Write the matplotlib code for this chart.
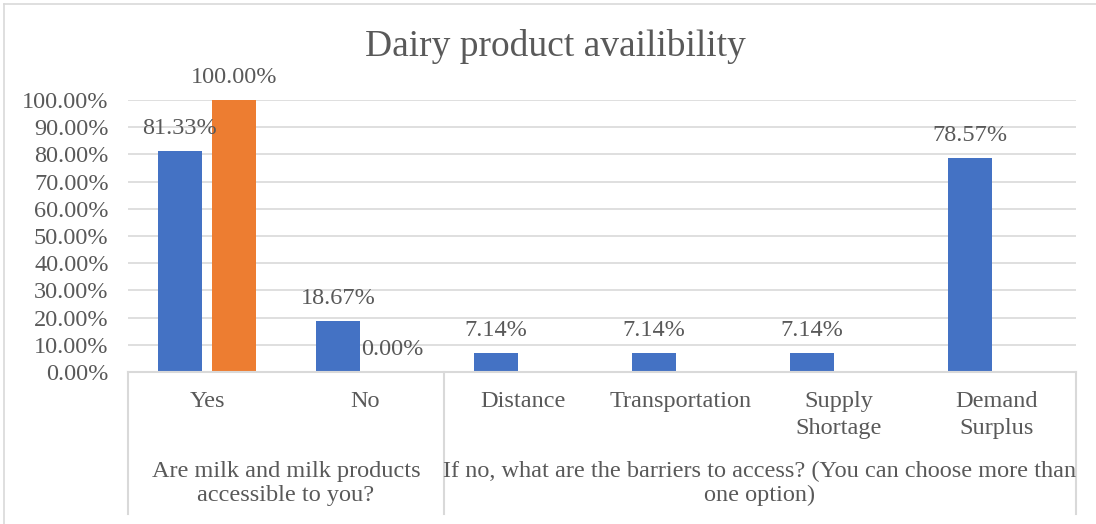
import matplotlib.pyplot as plt
import numpy as np
from matplotlib.lines import Line2D

plt.rcParams['font.family'] = ['Liberation Serif', 'DejaVu Serif']

# Category labels (inner level) and question groups (outer level)
categories = ['Yes', 'No', 'Distance', 'Transportation', 'Supply\nShortage', 'Demand\nSurplus']
groups = ['Are milk and milk products\naccessible to you?',
          'If no, what are the barriers to access? (You can choose more than\none option)']
group_sizes = [2, 4]

# Percent values per series (nan = no bar)
series_blue = [81.33, 18.67, 7.14, 7.14, 7.14, 78.57]
series_orange = [100.00, 0.00, np.nan, np.nan, np.nan, np.nan]

blue = '#4472C4'
orange = '#ED7D31'
text_gray = '#595959'
line_gray = '#D9D9D9'
fs = 17.5

fig = plt.figure(figsize=(10.96, 5.24), dpi=100)
ax = fig.add_axes([128 / 1096, 152 / 524, 948 / 1096, 272 / 524])

x = np.arange(len(categories))
width = 0.275
offset = 0.172
b1 = ax.bar(x - offset, np.array(series_blue) / 100, width, color=blue)
b2 = ax.bar(x + offset, np.array(series_orange) / 100, width, color=orange)

for bars, vals in ((b1, series_blue), (b2, series_orange)):
    for rect, v in zip(bars, vals):
        if np.isnan(v):
            continue
        ax.annotate(f'{v:.2f}%', (rect.get_x() + rect.get_width() / 2, v / 100),
                    xytext=(0, 8.5), textcoords='offset points',
                    ha='center', va='bottom', fontsize=fs, color=text_gray)

ax.set_xlim(-0.5, len(categories) - 0.5)
ax.set_ylim(0, 1.0)
ticks = np.arange(0, 1.01, 0.1)
ax.set_yticks(ticks)
ax.set_yticklabels([f'{t * 100:.2f}%' for t in ticks], fontsize=fs, color=text_gray)
ax.tick_params(axis='y', length=0, pad=14)
ax.set_xticks([])
ax.grid(axis='y', color=line_gray, linewidth=1.2)
ax.set_axisbelow(True)
for s in ['top', 'right', 'left']:
    ax.spines[s].set_visible(False)
ax.spines['bottom'].set_color(line_gray)
ax.spines['bottom'].set_linewidth(1.5)

# Inner category labels
trans = ax.get_xaxis_transform()
for xi, lab in zip(x, categories):
    ax.text(xi, -0.07, lab, transform=trans, ha='center', va='top',
            fontsize=fs, color=text_gray, linespacing=1.35)

# Outer group labels and separators
start = 0
bounds = [-0.5]
for g, n in zip(groups, group_sizes):
    center = start + (n - 1) / 2
    ax.text(center, -0.328, g, transform=trans, ha='center', va='top',
            fontsize=fs, color=text_gray, linespacing=1.18)
    start += n
    bounds.append(start - 0.5)
for b in bounds:
    ax.add_line(Line2D([b, b], [0, -0.521], transform=trans, color=line_gray,
                       linewidth=1.5, clip_on=False))

fig.text(555 / 1096, 1 - 47 / 524, 'Dairy product availibility', ha='center', va='center',
         fontsize=27, color=text_gray)

# Chart outer border (top and left)
fig.add_artist(Line2D([4 / 1096, 1], [1 - 4 / 524] * 2, color=line_gray, linewidth=1.2))
fig.add_artist(Line2D([4 / 1096] * 2, [0, 1 - 4 / 524], color=line_gray, linewidth=1.2))

fig.savefig('out.png', dpi=100)
